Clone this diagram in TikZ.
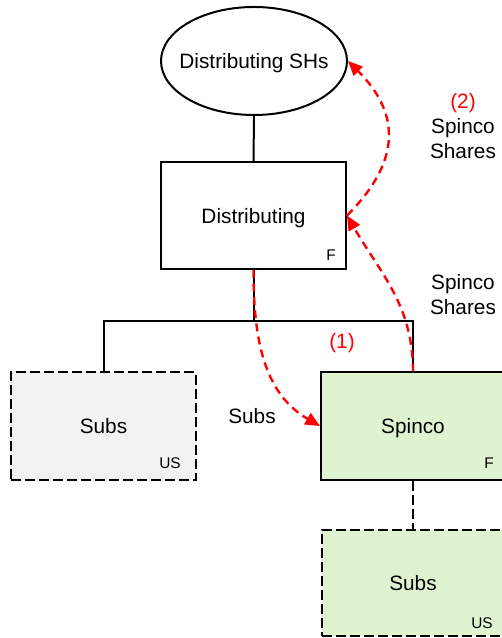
\documentclass[tikz,border=0pt]{standalone}
\usepackage{fontspec}
\setmainfont{Liberation Sans}
\usetikzlibrary{arrows.meta,shapes.geometric}

\definecolor{spgreen}{RGB}{224,243,209}
\definecolor{subgrey}{RGB}{242,242,242}

\tikzset{
  mainlbl/.style={font=\fontsize{15.6pt}{18.75pt}\selectfont, inner sep=0pt, align=center},
  smalllbl/.style={font=\fontsize{11.6pt}{14pt}\selectfont, inner sep=0pt},
  entity/.style={draw=black, line width=1.5pt, rectangle, inner sep=0pt,
                 minimum width=138.75pt, minimum height=80.5pt, text depth=0pt,
                 font=\fontsize{15.6pt}{18.75pt}\selectfont},
  dashbox/.style={entity, dash pattern=on 7.5pt off 3pt},
  tree/.style={draw=black, line width=1.5pt},
  flow/.style={draw=red, line width=1.8pt, dash pattern=on 6pt off 4pt,
               -{Triangle[length=11pt,width=9.5pt]}},
}

\begin{document}
\begin{tikzpicture}[x=0.75pt,y=0.75pt]
  \useasboundingbox (0,0) rectangle (502,638);

  % shareholders and parent
  \node[ellipse, draw=black, line width=1.5pt, inner xsep=-7pt, inner ysep=0pt,
        minimum width=139.5pt, minimum height=81pt, text depth=0pt,
        font=\fontsize{15.6pt}{18.75pt}\selectfont] (sh) at (254,577) {Distributing SHs};
  \node[entity, fill=white] (dist) at (253.5,422.5) {Distributing};

  % subsidiaries
  \node[dashbox, fill=subgrey] (subsL) at (103.5,212) {Subs};
  \node[entity, fill=spgreen, minimum width=138pt] (spinco) at (413,212) {Spinco};
  \node[dashbox, fill=spgreen, minimum width=137.25pt, minimum height=79.5pt] (subsB) at (413,55) {Subs};

  % jurisdiction tags
  \node[smalllbl] (fdist) at (331,383) {F};
  \node[smalllbl] (usL) at (170,175) {US};
  \node[smalllbl] (fsp) at (489,175) {F};
  \node[smalllbl] (usB) at (482,15) {US};

  % ownership lines
  \coordinate (bar) at (253.5,317);
  \draw[tree] (sh.south) -- (dist.north);
  \draw[tree] (dist.south) -- (bar);
  \draw[tree] (subsL.north) |- (bar) -| (spinco.north);
  \draw[tree, dash pattern=on 7.5pt off 3pt] (spinco.south) -- (subsB.north);

  % transfer steps
  \draw[flow] (dist.south) to[out=-90, in=150] (spinco.west);
  \draw[flow] (spinco.north) to[out=90, in=-60] (dist.east);
  \draw[flow] (dist.east) to[out=45, in=-45, looseness=1.25] (sh.east);

  % step labels
  \node[mainlbl] (lblsubs) at (252,222) {Subs};
  \node[mainlbl, text=red] (lblone) at (342,295) {(1)};
  \node[mainlbl] (lblsh1) at (463,343.5) {Spinco\\Shares};
  \node[mainlbl] (lblsh2) at (463,512) {\textcolor{red}{(2)}\\Spinco\\Shares};
\end{tikzpicture}
\end{document}
